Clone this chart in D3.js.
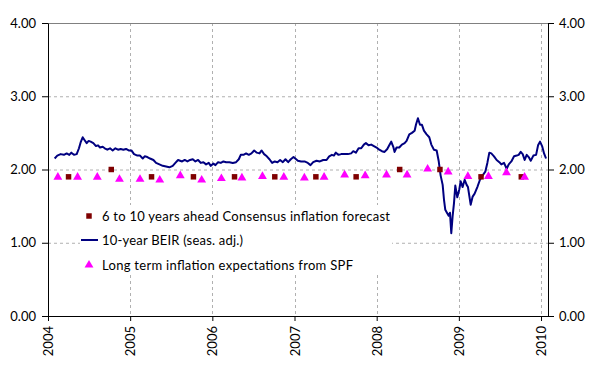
<!DOCTYPE html>
<html>
<head>
<meta charset="utf-8">
<script src="https://cdn.jsdelivr.net/npm/d3@7"></script>
<style>
  body { margin: 0; background: #fff; }
  text { font-family: Lato, "DejaVu Sans", sans-serif; }
</style>
</head>
<body>
<div class="viz"></div>
<script>
// 10-year BEIR (seas. adj.), x in decimal years
var beirYears = [
  2004.081, 2004.113, 2004.154, 2004.194, 2004.227, 2004.259, 2004.284, 2004.316, 2004.349, 2004.377,
  2004.397, 2004.422, 2004.446, 2004.471, 2004.495, 2004.519, 2004.552, 2004.584, 2004.609, 2004.633,
  2004.666, 2004.690, 2004.722, 2004.755, 2004.787, 2004.820, 2004.852, 2004.885, 2004.917, 2004.950, 2004.982,
  2005.015, 2005.047, 2005.088, 2005.120, 2005.153, 2005.177, 2005.209, 2005.242, 2005.283, 2005.315,
  2005.356, 2005.396, 2005.437, 2005.477, 2005.518, 2005.550, 2005.583, 2005.607, 2005.632, 2005.664,
  2005.697, 2005.729, 2005.762, 2005.794, 2005.827, 2005.859, 2005.891, 2005.924, 2005.956, 2005.981,
  2006.013, 2006.038, 2006.070, 2006.103, 2006.135, 2006.168, 2006.208, 2006.249, 2006.289, 2006.322,
  2006.346, 2006.379, 2006.411, 2006.444, 2006.476, 2006.509, 2006.541, 2006.574, 2006.598, 2006.630,
  2006.663, 2006.695, 2006.728, 2006.760, 2006.793, 2006.825, 2006.858, 2006.890, 2006.923, 2006.955, 2006.988,
  2007.041, 2007.081, 2007.122, 2007.162, 2007.195, 2007.227, 2007.268, 2007.309, 2007.349, 2007.390,
  2007.422, 2007.455, 2007.479, 2007.503, 2007.536, 2007.568, 2007.609, 2007.650, 2007.690, 2007.715,
  2007.747, 2007.780, 2007.812, 2007.844, 2007.869, 2007.901, 2007.934, 2007.966, 2007.999,
  2008.031, 2008.064, 2008.096, 2008.129, 2008.153, 2008.177, 2008.202, 2008.218, 2008.242, 2008.275,
  2008.307, 2008.340, 2008.364, 2008.397, 2008.429, 2008.462, 2008.478, 2008.502, 2008.527, 2008.551,
  2008.575, 2008.608, 2008.640, 2008.665, 2008.697, 2008.730, 2008.754, 2008.778, 2008.803, 2008.819,
  2008.835, 2008.860, 2008.876, 2008.892, 2008.908, 2008.924, 2008.941, 2008.957, 2008.981,
  2009.006, 2009.022, 2009.046, 2009.071, 2009.095, 2009.111, 2009.144, 2009.168, 2009.192, 2009.225,
  2009.257, 2009.290, 2009.322, 2009.347, 2009.371, 2009.395, 2009.428, 2009.460, 2009.493, 2009.517,
  2009.550, 2009.582, 2009.607, 2009.639, 2009.672, 2009.704, 2009.728, 2009.753, 2009.777, 2009.801,
  2009.826, 2009.850, 2009.875, 2009.907, 2009.940, 2009.964, 2009.988,
  2010.013, 2010.037, 2010.061
];
var beirValues = [
  2.15, 2.19, 2.21, 2.20, 2.22, 2.20, 2.23, 2.20, 2.21, 2.29,
  2.37, 2.44, 2.40, 2.36, 2.39, 2.38, 2.36, 2.32, 2.33, 2.30,
  2.31, 2.29, 2.27, 2.29, 2.26, 2.29, 2.27, 2.28, 2.27, 2.28, 2.26,
  2.26, 2.21, 2.19, 2.19, 2.15, 2.18, 2.17, 2.15, 2.13, 2.09,
  2.07, 2.05, 2.04, 2.03, 2.05, 2.09, 2.13, 2.12, 2.11, 2.13,
  2.11, 2.13, 2.14, 2.11, 2.13, 2.09, 2.10, 2.07, 2.09, 2.05,
  2.08, 2.06, 2.10, 2.09, 2.11, 2.10, 2.10, 2.09, 2.10, 2.14,
  2.20, 2.20, 2.22, 2.20, 2.22, 2.26, 2.23, 2.22, 2.26, 2.21,
  2.18, 2.14, 2.09, 2.11, 2.10, 2.13, 2.10, 2.14, 2.10, 2.14, 2.17,
  2.12, 2.11, 2.11, 2.09, 2.06, 2.10, 2.12, 2.11, 2.13, 2.13,
  2.18, 2.20, 2.19, 2.23, 2.20, 2.21, 2.21, 2.21, 2.22, 2.25,
  2.23, 2.29, 2.29, 2.34, 2.36, 2.33, 2.34, 2.32, 2.30,
  2.27, 2.25, 2.24, 2.28, 2.33, 2.38, 2.31, 2.24, 2.30, 2.30,
  2.34, 2.36, 2.39, 2.48, 2.50, 2.53, 2.61, 2.70, 2.61, 2.61,
  2.53, 2.48, 2.44, 2.34, 2.27, 2.26, 2.12, 1.92, 1.79, 1.59,
  1.45, 1.40, 1.37, 1.41, 1.13, 1.36, 1.54, 1.78, 1.62,
  1.73, 1.84, 1.76, 1.86, 1.79, 1.76, 1.52, 1.63, 1.67, 1.76,
  1.86, 1.92, 1.97, 2.09, 2.23, 2.22, 2.18, 2.13, 2.10, 2.07,
  2.09, 2.01, 2.07, 2.11, 2.18, 2.19, 2.20, 2.24, 2.21, 2.13,
  2.20, 2.17, 2.12, 2.19, 2.20, 2.33, 2.38,
  2.32, 2.22, 2.15
];

// 6 to 10 years ahead Consensus forecast (April / October surveys)
var consensusYears = [2004.25, 2004.77, 2005.26, 2005.77, 2006.27, 2006.76,
                      2007.26, 2007.75, 2008.28, 2008.77, 2009.27, 2009.76];
var consensusValues = [1.9, 2.0, 1.9, 1.9, 1.9, 1.9, 1.9, 1.9, 2.0, 2.0, 1.9, 1.9];

// SPF long term expectations (quarterly)
var spfYears = [2004.12, 2004.36, 2004.60, 2004.87, 2005.12, 2005.36, 2005.61, 2005.87,
                2006.11, 2006.36, 2006.61, 2006.87, 2007.12, 2007.36, 2007.61, 2007.86,
                2008.12, 2008.37, 2008.62, 2008.87, 2009.11, 2009.36, 2009.58, 2009.80];
var spfValues = [1.91, 1.91, 1.91, 1.88, 1.88, 1.87, 1.93, 1.87,
                 1.89, 1.90, 1.92, 1.91, 1.90, 1.91, 1.94, 1.93,
                 1.94, 1.94, 2.02, 1.98, 1.92, 1.92, 1.97, 1.91];

var yTicks = [0, 1, 2, 3, 4];
var xTicks = [2004, 2005, 2006, 2007, 2008, 2009, 2010];
var legendLabels = [
  "6 to 10 years ahead Consensus inflation forecast",
  "10-year BEIR (seas. adj.)",
  "Long term inflation expectations from SPF"
];

var width = 597, height = 366;
var margin = {top: 23, right: 49, bottom: 50, left: 48};

var svg = d3.select('.viz').append('svg')
  .attr('width', width)
  .attr('height', height);

var x = d3.scaleLinear()
  .domain([2004, 2010.085])
  .range([margin.left, width - margin.right]);
var y = d3.scaleLinear()
  .domain([0, 4])
  .range([height - margin.bottom, margin.top]);

var colLine = '#000080', colSq = '#7f0000', colTri = '#ff00ff', colGrid = '#b0b0b0';

// horizontal grid
svg.append('g').selectAll('line')
  .data(yTicks.slice(1, 4))
  .enter().append('line')
  .attr('x1', x.range()[0]).attr('x2', x.range()[1])
  .attr('y1', d => y(d) + 0.5).attr('y2', d => y(d) + 0.5)
  .attr('stroke', colGrid).attr('stroke-dasharray', '3,3');

// vertical grid
svg.append('g').selectAll('line')
  .data(xTicks.slice(1))
  .enter().append('line')
  .attr('x1', d => Math.round(x(d)) + 0.5).attr('x2', d => Math.round(x(d)) + 0.5)
  .attr('y1', y(4)).attr('y2', y(0))
  .attr('stroke', colGrid).attr('stroke-dasharray', '3,3');

// top border of plot area
svg.append('line')
  .attr('x1', x.range()[0]).attr('x2', x.range()[1])
  .attr('y1', y(4) + 0.5).attr('y2', y(4) + 0.5)
  .attr('stroke', '#808080');

// legend box hides the grid behind it
var legend = svg.append('g');
legend.append('rect')
  .attr('x', 80).attr('y', 205).attr('width', 312).attr('height', 68)
  .attr('fill', '#fff');

// BEIR line
var beir = beirYears.map((t, i) => [t, beirValues[i]]);
svg.append('path')
  .datum(beir)
  .attr('fill', 'none')
  .attr('stroke', colLine)
  .attr('stroke-width', 2)
  .attr('stroke-linejoin', 'round')
  .attr('d', d3.line().x(d => x(d[0])).y(d => y(d[1])));

var square = d3.symbol(d3.symbolSquare, 30);
var triangle = d3.symbol(d3.symbolTriangle, 34);

svg.append('g').selectAll('path')
  .data(consensusYears.map((t, i) => [t, consensusValues[i]]))
  .enter().append('path')
  .attr('d', square)
  .attr('fill', colSq)
  .attr('transform', d => `translate(${x(d[0])},${y(d[1])})`);

svg.append('g').selectAll('path')
  .data(spfYears.map((t, i) => [t, spfValues[i]]))
  .enter().append('path')
  .attr('d', triangle)
  .attr('fill', colTri)
  .attr('transform', d => `translate(${x(d[0])},${y(d[1]) + 1})`);

// axes
function styleAxis(g) {
  g.selectAll('path,line').attr('stroke', '#000');
  g.selectAll('text').attr('font-size', 13).attr('fill', '#000');
}

svg.append('g')
  .attr('transform', `translate(${margin.left},0)`)
  .call(d3.axisLeft(y).tickValues(yTicks).tickFormat(d3.format('.2f'))
        .tickSize(6).tickSizeOuter(0).tickPadding(6))
  .call(styleAxis);

svg.append('g')
  .attr('transform', `translate(${width - margin.right},0)`)
  .call(d3.axisRight(y).tickValues(yTicks).tickFormat(d3.format('.2f'))
        .tickSize(6).tickSizeOuter(0).tickPadding(5))
  .call(styleAxis);

svg.append('g')
  .attr('transform', `translate(0,${height - margin.bottom})`)
  .call(d3.axisBottom(x).tickValues(xTicks).tickFormat(d3.format('d'))
        .tickSize(5).tickSizeOuter(0))
  .call(styleAxis)
  .selectAll('text')
  .attr('transform', 'rotate(-90)')
  .attr('text-anchor', 'end')
  .attr('x', -10).attr('y', 0).attr('dy', '0.35em');

// legend entries
var rowY = [216, 240, 265];
legend.append('path')
  .attr('d', square).attr('fill', colSq)
  .attr('transform', `translate(89,${rowY[0]})`);
legend.append('line')
  .attr('x1', 81).attr('x2', 98).attr('y1', rowY[1]).attr('y2', rowY[1])
  .attr('stroke', colLine).attr('stroke-width', 2);
legend.append('path')
  .attr('d', triangle).attr('fill', colTri)
  .attr('transform', `translate(89,${rowY[2]})`);

var legendWidths = [288, 141, 251];
legend.selectAll('text.lbl')
  .data(legendLabels)
  .enter().append('text')
  .attr('class', 'lbl')
  .attr('x', 102)
  .attr('y', (d, i) => rowY[i])
  .attr('dy', '0.35em')
  .attr('font-size', 13)
  .attr('textLength', (d, i) => legendWidths[i])
  .attr('lengthAdjust', 'spacing')
  .text(d => d);
</script>
</body>
</html>
